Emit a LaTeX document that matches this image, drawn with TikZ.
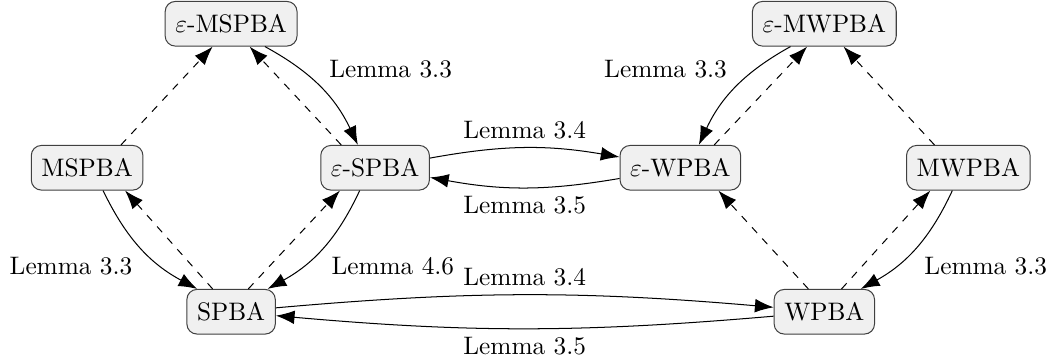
\documentclass[tikz,border=0pt]{standalone}
\usepackage{amsmath}
\usepackage{amssymb}
\usepackage{tikz}
\usetikzlibrary{arrows.meta}

\tikzset{
    classe/.style={draw=black!75, fill=black!6, rounded corners=4pt, inner xsep=4pt, minimum height=6.2mm},
    incl/.style={-{Latex[length=2.6mm, width=1.9mm]}, dashed},
    lemme/.style={-{Latex[length=2.6mm, width=1.9mm]}}
}

\begin{document}
\begin{tikzpicture}
    % Cadre
    \useasboundingbox (-3.21, -0.71) rectangle (11.43, 4.33);

    % Losange de gauche
    \node[classe] (emspba) at (0, 4) {$\varepsilon$-MSPBA};
    \node[classe] (mspba) at (-2, 2) {MSPBA};
    \node[classe] (espba) at (2, 2) {$\varepsilon$-SPBA};
    \node[classe] (spba) at (0, 0) {SPBA};

    % Losange de droite
    \node[classe] (emwpba) at (8.24, 4) {$\varepsilon$-MWPBA};
    \node[classe] (ewpba) at (6.24, 2) {$\varepsilon$-WPBA};
    \node[classe] (mwpba) at (10.24, 2) {MWPBA};
    \node[classe] (wpba) at (8.24, 0) {WPBA};

    % Inclusions (pointillés), à gauche
    \draw[incl] (mspba.34) -- (emspba.231);
    \draw[incl] (espba.146) -- (emspba.309);
    \draw[incl] (spba.129) -- (mspba.329);
    \draw[incl] (spba.53) -- (espba.213);

    % Inclusions (pointillés), à droite
    \draw[incl] (ewpba.34) -- (emwpba.233);
    \draw[incl] (mwpba.146) -- (emwpba.310);
    \draw[incl] (wpba.125) -- (ewpba.329);
    \draw[incl] (wpba.53) -- (mwpba.211);

    % Lemmes, à gauche
    \draw[lemme] (emspba.326) to[bend left=18] node[above right] {Lemma 3.3} (espba.127);
    \draw[lemme] (mspba.305) to[bend right=18] node[below left] {Lemma 3.3} (spba.146);
    \draw[lemme] (espba.236) to[bend left=18] node[below right] {Lemma 4.6} (spba.32);

    % Lemmes, à droite
    \draw[lemme] (emwpba.214) to[bend right=18] node[above left] {Lemma 3.3} (ewpba.51);
    \draw[lemme] (mwpba.235) to[bend left=18] node[below right] {Lemma 3.3} (wpba.32);

    % Entre les deux losanges
    \draw[lemme] (espba) to[bend left=10] node[above] {Lemma 3.4} (ewpba);
    \draw[lemme] (ewpba) to[bend left=10] node[below] {Lemma 3.5} (espba);
    \draw[lemme] (spba) to[bend left=5] node[above] {Lemma 3.4} (wpba);
    \draw[lemme] (wpba) to[bend left=5] node[below] {Lemma 3.5} (spba);
\end{tikzpicture}
\end{document}
